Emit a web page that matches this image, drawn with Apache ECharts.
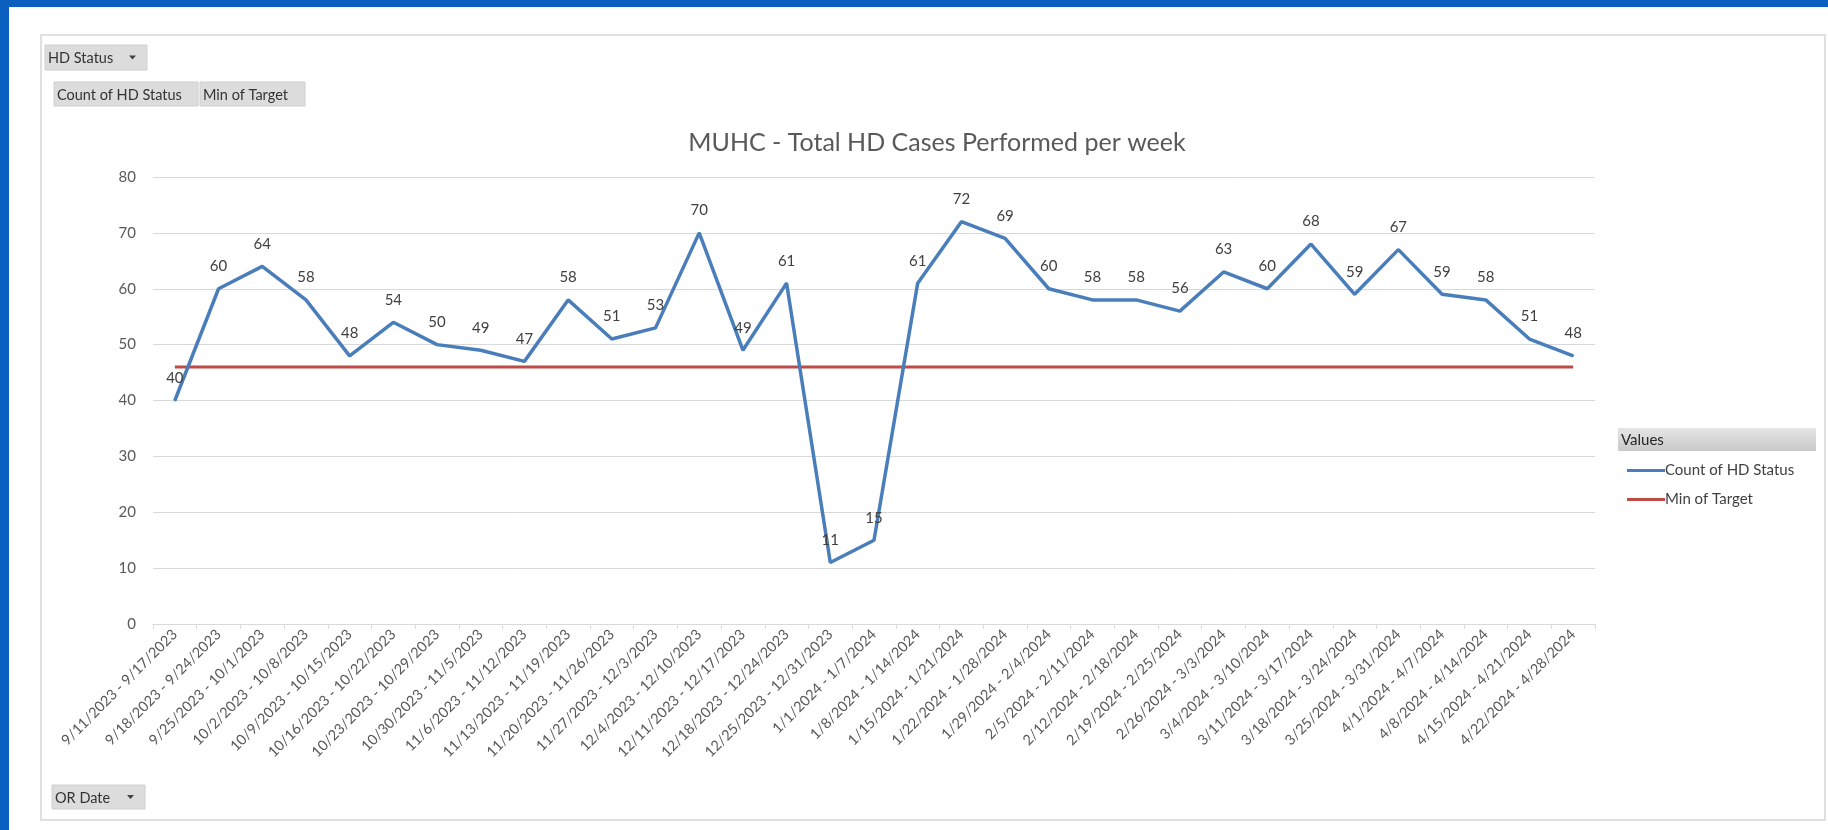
<!DOCTYPE html>
<html>
<head>
<meta charset="utf-8">
<script src="https://cdn.jsdelivr.net/npm/echarts@6/dist/echarts.min.js"></script>
<style>
html,body{margin:0;padding:0;background:#fff;}
#c{width:1828px;height:830px;}
</style>
</head>
<body>
<div id="c"></div>
<script>
const categories = [
  "9/11/2023 - 9/17/2023","9/18/2023 - 9/24/2023","9/25/2023 - 10/1/2023","10/2/2023 - 10/8/2023",
  "10/9/2023 - 10/15/2023","10/16/2023 - 10/22/2023","10/23/2023 - 10/29/2023","10/30/2023 - 11/5/2023",
  "11/6/2023 - 11/12/2023","11/13/2023 - 11/19/2023","11/20/2023 - 11/26/2023","11/27/2023 - 12/3/2023",
  "12/4/2023 - 12/10/2023","12/11/2023 - 12/17/2023","12/18/2023 - 12/24/2023","12/25/2023 - 12/31/2023",
  "1/1/2024 - 1/7/2024","1/8/2024 - 1/14/2024","1/15/2024 - 1/21/2024","1/22/2024 - 1/28/2024",
  "1/29/2024 - 2/4/2024","2/5/2024 - 2/11/2024","2/12/2024 - 2/18/2024","2/19/2024 - 2/25/2024",
  "2/26/2024 - 3/3/2024","3/4/2024 - 3/10/2024","3/11/2024 - 3/17/2024","3/18/2024 - 3/24/2024",
  "3/25/2024 - 3/31/2024","4/1/2024 - 4/7/2024","4/8/2024 - 4/14/2024","4/15/2024 - 4/21/2024",
  "4/22/2024 - 4/28/2024"
];
const countOfHDStatus = [40,60,64,58,48,54,50,49,47,58,51,53,70,49,61,11,15,61,72,69,60,58,58,56,63,60,68,59,67,59,58,51,48];
const minOfTarget = [46,46,46,46,46,46,46,46,46,46,46,46,46,46,46,46,46,46,46,46,46,46,46,46,46,46,46,46,46,46,46,46,46];
const yTicks = [0,10,20,30,40,50,60,70,80];

const FONT = 'Lato, "Open Sans", sans-serif';
const chart = echarts.init(document.getElementById('c'));

function button(x, y, w, h, text, arrow) {
  const els = [{
    type: 'rect', shape: {x: x, y: y, width: w, height: h},
    style: {fill: '#DCDCDC', stroke: '#D0D0D0', lineWidth: 1}
  }, {
    type: 'text', x: x + 3, y: y + h / 2 + 1,
    style: {text: text, fill: '#333333', font: '14.5px ' + FONT, verticalAlign: 'middle'}
  }];
  if (arrow) {
    els.push({
      type: 'polygon', shape: {points: [[x + w - 18, y + h / 2 - 2], [x + w - 11, y + h / 2 - 2], [x + w - 14.5, y + h / 2 + 2]]},
      style: {fill: '#404040'}
    });
  }
  return els;
}

const graphics = [].concat(
  [
    {type: 'rect', shape: {x: 0, y: 0, width: 1828, height: 7}, style: {fill: '#0B5FBE'}},
    {type: 'rect', shape: {x: 0, y: 0, width: 9, height: 830}, style: {fill: '#0B5FBE'}},
    {type: 'rect', shape: {x: 41, y: 35, width: 1784, height: 785}, style: {fill: 'none', stroke: '#E0E0E0', lineWidth: 2}},
    {type: 'rect', shape: {x: 1618, y: 428, width: 198, height: 23},
      style: {fill: new echarts.graphic.LinearGradient(0, 0, 0, 1, [{offset: 0, color: '#E6E6E6'}, {offset: 1, color: '#C8C8C8'}])}},
    {type: 'text', x: 1621, y: 440, style: {text: 'Values', fill: '#262626', font: '15px ' + FONT, verticalAlign: 'middle'}}
  ],
  button(45, 45, 102, 25, 'HD Status', true),
  button(54, 82, 144, 24, 'Count of HD Status', false),
  button(200, 82, 105, 24, 'Min of Target', false),
  button(52, 785, 93, 24, 'OR Date', true)
);

chart.setOption({
  animation: false,
  backgroundColor: '#fff',
  title: {
    text: 'MUHC - Total HD Cases Performed per week',
    left: 932, top: 125, textAlign: 'center',
    textStyle: {fontFamily: FONT, fontSize: 25, fontWeight: 'normal', color: '#595959'}
  },
  grid: {left: 153, right: 233, top: 177, bottom: 206},
  legend: {
    orient: 'vertical', left: 1622, top: 458, itemGap: 14,
    icon: 'rect', itemWidth: 38, itemHeight: 3,
    textStyle: {fontFamily: FONT, fontSize: 15, color: '#404040', padding: [0, 0, 0, -5]},
    data: ['Count of HD Status', 'Min of Target']
  },
  xAxis: {
    type: 'category', data: categories, boundaryGap: true,
    axisLine: {lineStyle: {color: '#D9D9D9', width: 1}},
    axisTick: {show: true, length: 5, lineStyle: {color: '#D9D9D9'}},
    axisLabel: {rotate: 45, interval: 0, margin: 8, fontFamily: FONT, fontSize: 14.5, color: '#595959'}
  },
  yAxis: {
    type: 'value', min: yTicks[0], max: yTicks[yTicks.length - 1], interval: 10,
    axisLine: {show: false}, axisTick: {show: false},
    splitLine: {lineStyle: {color: '#D9D9D9', width: 1}},
    axisLabel: {margin: 17, fontFamily: FONT, fontSize: 15, color: '#595959'}
  },
  series: [
    {
      name: 'Count of HD Status', type: 'line', data: countOfHDStatus,
      symbol: 'circle', symbolSize: 2, showSymbol: true,
      lineStyle: {color: '#4A7EBB', width: 3.5}, itemStyle: {color: '#4A7EBB'},
      label: {show: true, position: 'top', distance: 14, fontFamily: FONT, fontSize: 15, color: '#404040'},
      z: 3
    },
    {
      name: 'Min of Target', type: 'line', data: minOfTarget,
      symbol: 'none', lineStyle: {color: '#BE4B48', width: 3}, itemStyle: {color: '#BE4B48'},
      z: 2
    }
  ],
  graphic: graphics
});
</script>
</body>
</html>
